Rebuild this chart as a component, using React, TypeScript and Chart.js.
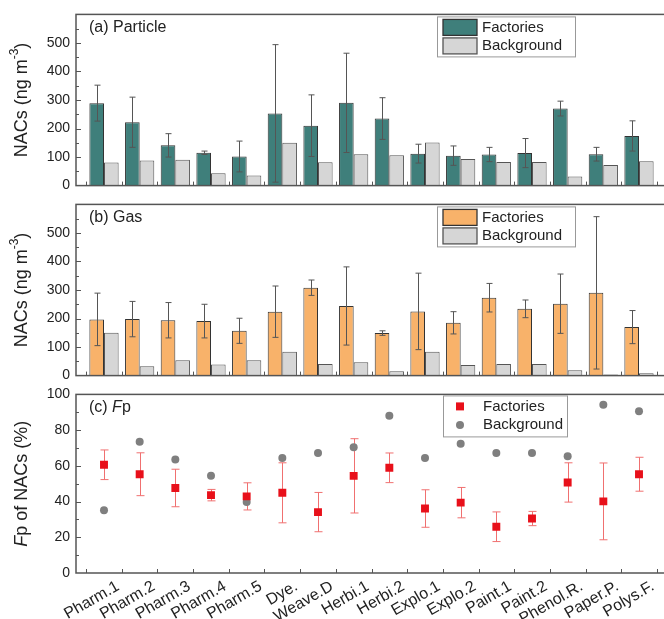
import React, { useEffect, useRef } from "react";
import { Chart, registerables } from "chart.js";
Chart.register(...registerables);

const categories = ["Pharm.1", "Pharm.2", "Pharm.3", "Pharm.4", "Pharm.5", "Dye.", "Weave.D", "Herbi.1", "Herbi.2", "Explo.1", "Explo.2", "Paint.1", "Paint.2", "Phenol.R.", "Paper.P.", "Polys.F."];

const particleFactories = [289, 222, 141, 115, 102, 253, 210, 290, 235, 112, 105, 109, 114, 270, 110, 174];
const particleFactoriesErr = [63, 88, 41, 6, 54, 241, 108, 174, 73, 33, 34, 25, 51, 26, 24, 53];
const particleBackground = [81, 88, 91, 43, 35, 150, 82, 110, 106, 151, 93, 83, 83, 32, 72, 85];

const gasFactories = [197, 198, 194, 191, 157, 224, 308, 244, 149, 225, 185, 273, 234, 252, 290, 170];
const gasFactoriesErr = [92, 62, 62, 59, 44, 90, 27, 137, 8, 134, 39, 50, 31, 104, 267, 58];
const gasBackground = [150, 33, 54, 39, 54, 84, 41, 47, 15, 84, 37, 41, 41, 19, 4, 8];

const fpFactories = [60.6, 55.3, 47.6, 43.6, 42.9, 44.9, 34.1, 54.4, 58.9, 36.1, 39.4, 25.9, 30.5, 50.7, 40.1, 55.3];
const fpFactoriesErr = [8.3, 12, 10.5, 3.2, 7.6, 16.8, 11, 20.8, 8.3, 10.5, 8.5, 8.3, 4, 11, 21.5, 9.5];
const fpBackground = [35.2, 73.5, 63.5, 54.4, 39.8, 64.4, 67.2, 70.4, 88.1, 64.4, 72.3, 67.2, 67.2, 65.3, 94.2, 90.5];

const barTicks = [0, 100, 200, 300, 400, 500];
const fpTicks = [0, 20, 40, 60, 80, 100];

const FONT = "'Liberation Sans', Arial, sans-serif";
const X_MIN = -0.785;
const X_MAX = 15.785;
const TEAL = "#3f7f7b";
const GREY = "#d6d6d6";
const ORANGE = "#f8b26a";
const RED = "#e8101a";
const DOT = "#7f7f7f";

type Seg = { t: string; italic?: boolean; size: number; dy?: number };

function segFont(s: Seg) {
  return `${s.italic ? "italic " : ""}${s.size}px ${FONT}`;
}

function drawSegs(ctx: CanvasRenderingContext2D, segs: Seg[], x: number, y: number, center: boolean) {
  let w = 0;
  segs.forEach((s) => {
    ctx.font = segFont(s);
    w += ctx.measureText(s.t).width;
  });
  let cx = center ? x - w / 2 : x;
  segs.forEach((s) => {
    ctx.font = segFont(s);
    ctx.fillText(s.t, cx, y + (s.dy || 0));
    cx += ctx.measureText(s.t).width;
  });
}

interface LegendItem { label: string; fill: string; stroke?: string; shape: "bar" | "rect" | "circle" }
interface PanelCfg {
  id: string;
  title: Seg[];
  yTitle: Seg[];
  yMax: number;
  majorStep: number;
  minorStep: number;
  err: number[];
  errColor: string;
  errCap: number;
  errBehind: boolean;
  legend: { x: number; dy: number; w: number; h: number; rows: number[]; markX: number; textX: number; items: LegendItem[] };
}

function makeDecor(cfg: PanelCfg) {
  const drawErr = (chart: any) => {
    const ctx = chart.ctx;
    const meta = chart.getDatasetMeta(0);
    const ys = chart.scales.y;
    const vals = chart.data.datasets[0].data;
    ctx.save();
    ctx.strokeStyle = cfg.errColor;
    ctx.lineWidth = 1;
    meta.data.forEach((el: any, i: number) => {
      const v = vals[i].y;
      const e = cfg.err[i];
      const x = Math.round(el.x) + 0.5;
      const y1 = ys.getPixelForValue(v + e);
      const y2 = ys.getPixelForValue(v - e);
      ctx.beginPath();
      ctx.moveTo(x, y1);
      ctx.lineTo(x, y2);
      ctx.moveTo(x - cfg.errCap, y1);
      ctx.lineTo(x + cfg.errCap, y1);
      ctx.moveTo(x - cfg.errCap, y2);
      ctx.lineTo(x + cfg.errCap, y2);
      ctx.stroke();
    });
    ctx.restore();
  };
  return {
    id: "decor_" + cfg.id,
    beforeDatasetsDraw(chart: any) {
      if (cfg.errBehind) drawErr(chart);
    },
    afterDatasetsDraw(chart: any) {
      if (!cfg.errBehind) drawErr(chart);
    },
    afterDraw(chart: any) {
      const ctx: CanvasRenderingContext2D = chart.ctx;
      const { left, right, top, bottom } = chart.chartArea;
      const xs = chart.scales.x;
      const ys = chart.scales.y;
      ctx.save();
      ctx.strokeStyle = "#555";
      ctx.lineWidth = 1.5;
      ctx.strokeRect(left, top, right - left, bottom - top);
      ctx.lineWidth = 1;
      ctx.beginPath();
      const n = Math.round(cfg.yMax / cfg.minorStep);
      const ratio = Math.round(cfg.majorStep / cfg.minorStep);
      for (let k = 1; k < n; k++) {
        const y = Math.round(ys.getPixelForValue(k * cfg.minorStep)) + 0.5;
        const len = k % ratio === 0 ? 5 : 3;
        ctx.moveTo(left, y);
        ctx.lineTo(left + len, y);
      }
      for (let i = 0; i <= categories.length; i++) {
        const x = Math.round(xs.getPixelForValue(i - 0.5)) + 0.5;
        ctx.moveTo(x, bottom);
        ctx.lineTo(x, bottom - 4);
      }
      ctx.stroke();
      ctx.fillStyle = "#222";
      ctx.textBaseline = "middle";
      ctx.textAlign = "left";
      drawSegs(ctx, cfg.title, 89, top + 13, false);
      ctx.save();
      ctx.translate(22, (top + bottom) / 2);
      ctx.rotate(-Math.PI / 2);
      drawSegs(ctx, cfg.yTitle, 0, 0, true);
      ctx.restore();
      const lg = cfg.legend;
      const by = top + lg.dy;
      ctx.fillStyle = "#fff";
      ctx.fillRect(lg.x, by, lg.w, lg.h);
      ctx.strokeStyle = "#999";
      ctx.lineWidth = 1;
      ctx.strokeRect(lg.x + 0.5, by + 0.5, lg.w, lg.h);
      lg.items.forEach((it, k) => {
        const cy = by + lg.rows[k];
        if (it.shape === "bar") {
          ctx.fillStyle = it.fill;
          ctx.fillRect(lg.markX, cy - 8, 34, 16);
          ctx.strokeStyle = it.stroke || "#444";
          ctx.lineWidth = 1.3;
          ctx.strokeRect(lg.markX, cy - 8, 34, 16);
        } else if (it.shape === "rect") {
          ctx.fillStyle = it.fill;
          ctx.fillRect(lg.markX - 4, cy - 4, 8, 8);
        } else {
          ctx.fillStyle = it.fill;
          ctx.beginPath();
          ctx.arc(lg.markX, cy, 4, 0, Math.PI * 2);
          ctx.fill();
        }
        ctx.fillStyle = "#222";
        ctx.font = `15px ${FONT}`;
        ctx.textAlign = "left";
        ctx.textBaseline = "middle";
        ctx.fillText(it.label, lg.textX, cy);
      });
      ctx.restore();
    },
  };
}

function baseOptions(yMax: number, ticks: number[], xDisplay: boolean, padding: any) {
  return {
    responsive: false,
    animation: false as const,
    events: [] as any[],
    layout: { padding },
    plugins: { legend: { display: false }, tooltip: { enabled: false } },
    scales: {
      x: {
        type: "linear" as const,
        min: X_MIN,
        max: X_MAX,
        offset: false,
        display: xDisplay,
        grid: { display: false, drawTicks: false },
        border: { display: false },
        afterBuildTicks: (s: any) => {
          s.ticks = categories.map((_, i) => ({ value: i }));
        },
        afterFit: (s: any) => {
          if (xDisplay) s.height = 46;
        },
        ticks: {
          includeBounds: false,
          stepSize: 1,
          autoSkip: false,
          minRotation: 30,
          maxRotation: 30,
          labelOffset: 14,
          padding: 4,
          color: "#222",
          font: { family: FONT, size: 16 },
          callback: (v: any) => categories[v] ?? "",
        },
      },
      y: {
        min: 0,
        max: yMax,
        grid: { display: false, drawTicks: false },
        border: { display: false },
        afterBuildTicks: (s: any) => {
          s.ticks = ticks.map((v) => ({ value: v }));
        },
        afterFit: (s: any) => {
          s.width = 76;
        },
        ticks: { padding: 6, color: "#222", font: { family: FONT, size: 14 } },
      },
    },
  };
}

const toXY = (arr: number[]) => arr.map((v, i) => ({ x: i, y: v }));

const nacsTitle: Seg[] = [
  { t: "NACs (ng m", size: 18 },
  { t: "-3", size: 12, dy: -7 },
  { t: ")", size: 18 },
];

export default function App() {
  const aRef = useRef<HTMLCanvasElement>(null);
  const bRef = useRef<HTMLCanvasElement>(null);
  const cRef = useRef<HTMLCanvasElement>(null);

  useEffect(() => {
    const charts: Chart[] = [];
    const barLegend = (fill: string) => ({
      x: 437, dy: 2, w: 138, h: 40, rows: [11, 29.5], markX: 443, textX: 482,
      items: [
        { label: "Factories", fill, stroke: "#333", shape: "bar" as const },
        { label: "Background", fill: GREY, stroke: "#555", shape: "bar" as const },
      ],
    });

    const cfgA: PanelCfg = {
      id: "a", title: [{ t: "(a) Particle", size: 16 }], yTitle: nacsTitle,
      yMax: 600, majorStep: 100, minorStep: 50, err: particleFactoriesErr, errColor: "#555", errCap: 3, errBehind: false,
      legend: barLegend(TEAL),
    };
    const cfgB: PanelCfg = {
      id: "b", title: [{ t: "(b) Gas", size: 16 }], yTitle: nacsTitle,
      yMax: 600, majorStep: 100, minorStep: 50, err: gasFactoriesErr, errColor: "#555", errCap: 3, errBehind: false,
      legend: barLegend(ORANGE),
    };
    const cfgC: PanelCfg = {
      id: "c",
      title: [{ t: "(c) ", size: 16 }, { t: "F", size: 16, italic: true }, { t: "p", size: 16 }],
      yTitle: [{ t: "F", size: 18, italic: true }, { t: "p of NACs (%)", size: 18 }],
      yMax: 100, majorStep: 20, minorStep: 10, err: fpFactoriesErr, errColor: "#f07070", errCap: 4, errBehind: true,
      legend: {
        x: 443, dy: 1, w: 124, h: 41, rows: [11, 29.5], markX: 460, textX: 483,
        items: [
          { label: "Factories", fill: RED, shape: "rect" },
          { label: "Background", fill: DOT, shape: "circle" },
        ],
      },
    };

    if (aRef.current) {
      charts.push(new Chart(aRef.current, {
        type: "bar",
        data: {
          datasets: [
            { label: "Factories", data: toXY(particleFactories), backgroundColor: TEAL, borderColor: "#333", borderWidth: 1, categoryPercentage: 0.82, barPercentage: 1 },
            { label: "Background", data: toXY(particleBackground), backgroundColor: GREY, borderColor: "#555", borderWidth: 1, categoryPercentage: 0.82, barPercentage: 1 },
          ],
        },
        options: baseOptions(600, barTicks, false, { top: 13, bottom: 6, left: 0, right: 13 }) as any,
        plugins: [makeDecor(cfgA)],
      }));
    }
    if (bRef.current) {
      charts.push(new Chart(bRef.current, {
        type: "bar",
        data: {
          datasets: [
            { label: "Factories", data: toXY(gasFactories), backgroundColor: ORANGE, borderColor: "#333", borderWidth: 1, categoryPercentage: 0.82, barPercentage: 1 },
            { label: "Background", data: toXY(gasBackground), backgroundColor: GREY, borderColor: "#555", borderWidth: 1, categoryPercentage: 0.82, barPercentage: 1 },
          ],
        },
        options: baseOptions(600, barTicks, false, { top: 12, bottom: 6, left: 0, right: 13 }) as any,
        plugins: [makeDecor(cfgB)],
      }));
    }
    if (cRef.current) {
      charts.push(new Chart(cRef.current, {
        type: "scatter",
        data: {
          datasets: [
            { label: "Factories", data: toXY(fpFactories), pointStyle: "rect", pointRadius: 5.6, backgroundColor: RED, borderWidth: 0, showLine: false },
            { label: "Background", data: toXY(fpBackground), pointStyle: "circle", pointRadius: 4, backgroundColor: DOT, borderWidth: 0, showLine: false },
          ],
        },
        options: baseOptions(100, fpTicks, true, { top: 12, bottom: 0, left: 0, right: 13 }) as any,
        plugins: [makeDecor(cfgC)],
      }));
    }
    return () => charts.forEach((c) => c.destroy());
  }, []);

  const canvasStyle = (top: number, h: number): React.CSSProperties => ({
    position: "absolute", left: 0, top, width: 680, height: h, display: "block",
  });

  return (
    <div style={{ position: "absolute", left: 0, top: 0, width: 664, height: 619, overflow: "hidden", background: "#fff" }}>
      <canvas ref={aRef} width={680} height={200} style={canvasStyle(0, 200)} />
      <canvas ref={bRef} width={680} height={200} style={canvasStyle(190, 200)} />
      <canvas ref={cRef} width={680} height={239} style={canvasStyle(380, 239)} />
    </div>
  );
}
